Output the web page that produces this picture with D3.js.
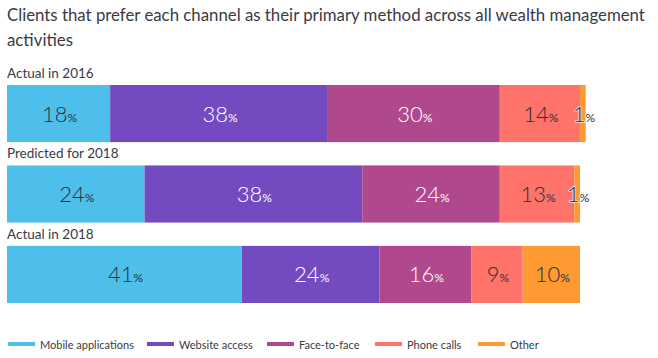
<!DOCTYPE html>
<html><head><meta charset="utf-8">
<script src="https://cdn.jsdelivr.net/npm/d3@7"></script>
<style>body{margin:0;background:#fff;} text{font-family:Lato,"Open Sans",sans-serif;}</style>
</head><body>
<svg id="c" width="658" height="358"></svg>
<script>
const categories = ["Actual in 2016", "Predicted for 2018", "Actual in 2018"];
const channels = ["Mobile applications", "Website access", "Face-to-face", "Phone calls", "Other"];
const mobile = [18, 24, 41];
const website = [38, 38, 24];
const faceToFace = [30, 24, 16];
const phone = [14, 13, 9];
const other = [1, 1, 10];
const colors = ["#4EBFEA", "#734AC0", "#AF488D", "#FF736A", "#FF9A32"];
const labelColors = ["#2e2e38", "#ffffff", "#ffffff", "#2e2e38", "#2e2e38"];

const series = [mobile, website, faceToFace, phone, other];
const svg = d3.select("#c");

const title1 = svg.append("text").attr("x", 7).attr("y", 21).attr("font-size", 18).attr("fill", "#3a3a44")
  .text("Clients that prefer each channel as their primary method across all wealth management");
const w = title1.node().getComputedTextLength();
const fs = w > 638 ? 18 * 638 / w : 18;
title1.attr("font-size", fs);
svg.append("text").attr("x", 7).attr("y", 46).attr("font-size", fs).attr("fill", "#3a3a44")
  .text("activities");

const x = d3.scaleLinear().domain([0, 100]).range([7, 580]);
const y = d3.scaleBand().domain(categories).range([85, 303]).paddingInner(0.29).paddingOuter(0);

const rows = categories.map((c, i) => {
  let acc = 0;
  return series.map((s, j) => { const seg = {cat: c, j, v: s[i], x0: acc, x1: acc + s[i]}; acc += s[i]; return seg; });
});

rows.forEach((segs, i) => {
  const c = categories[i];
  svg.append("text").attr("x", 7).attr("y", y(c) - 7).attr("font-size", 13.5).attr("fill", "#3a3a44").text(c);
  const g = svg.append("g");
  g.selectAll("rect").data(segs).join("rect")
    .attr("x", d => x(d.x0)).attr("y", y(c))
    .attr("width", d => x(d.x1) - x(d.x0)).attr("height", y.bandwidth())
    .attr("fill", d => colors[d.j]);
  const t = g.selectAll("text").data(segs).join("text")
    .attr("x", d => (x(d.x0) + x(d.x1)) / 2 + 1)
    .attr("y", y(c) + y.bandwidth() / 2 + 8)
    .attr("text-anchor", "middle")
    .attr("fill", d => labelColors[d.j])
    .style("paint-order", "stroke")
    .attr("stroke", d => d.v < 3 ? "rgba(255,255,255,0.6)" : "none")
    .attr("stroke-width", 2);
  t.append("tspan").attr("font-size", 22).attr("font-weight", 300).text(d => d.v);
  t.append("tspan").attr("font-size", 12).text("%");
});

const legendX = [8, 147, 267, 375, 478];
const lg = svg.append("g");
channels.forEach((ch, j) => {
  lg.append("rect").attr("x", legendX[j]).attr("y", 342).attr("width", 27).attr("height", 4).attr("fill", colors[j]);
  lg.append("text").attr("x", legendX[j] + 32).attr("y", 348.5).attr("font-size", 11).attr("fill", "#3a3a44").text(ch);
});
</script>
</body></html>
